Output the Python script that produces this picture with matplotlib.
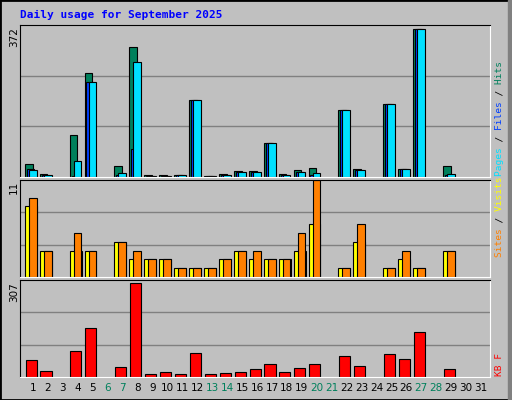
import matplotlib.pyplot as plt
from matplotlib.patches import Rectangle

days = list(range(1, 32))
weekends = [6, 7, 13, 14, 20, 21, 27, 28]

# daily values, 0 = no data
hits = [31, 8, 0, 104, 254, 0, 28, 317, 6, 6, 4, 188, 2, 8, 14, 14, 82, 8, 16, 21, 0,
        164, 19, 0, 178, 20, 362, 0, 26, 0, 0]
files = [19, 6, 0, 2, 232, 0, 6, 68, 3, 3, 4, 188, 2, 6, 13, 13, 82, 6, 13, 6, 0,
         164, 16, 0, 178, 20, 362, 0, 6, 0, 0]
pages = [16, 6, 0, 38, 232, 0, 11, 281, 3, 3, 4, 188, 2, 6, 13, 13, 82, 6, 13, 11, 0,
         164, 16, 0, 178, 20, 362, 0, 8, 0, 0]
visits = [8, 3, 0, 3, 3, 0, 4, 2, 2, 2, 1, 1, 1, 2, 3, 2, 2, 2, 3, 6, 0,
          1, 4, 0, 1, 2, 1, 0, 3, 0, 0]
sites = [9, 3, 0, 5, 3, 0, 4, 3, 2, 2, 1, 1, 1, 2, 3, 3, 2, 2, 5, 11, 0,
         1, 6, 0, 1, 3, 1, 0, 3, 0, 0]
kbytes = [53, 18, 0, 83, 154, 0, 31, 296, 11, 15, 9, 76, 9, 12, 15, 25, 41, 15, 28, 41, 0,
          67, 34, 0, 73, 57, 141, 0, 25, 0, 0]

BG = "#C0C0C0"
W, H = 512, 400
XMIN, XMAX = 0.13, 31.6
fig = plt.figure(figsize=(W / 100, H / 100), dpi=100, facecolor=BG)


def fx(px):
    return px / W


def fy(py):
    return 1 - py / H


def panel(top, bottom, ymax):
    ax = fig.add_axes([fx(20), fy(bottom), fx(490) - fx(20), fy(top) - fy(bottom)])
    ax.set_facecolor(BG)
    ax.set_xlim(XMIN, XMAX)
    ax.set_ylim(0, ymax)
    ax.set_xticks([])
    ax.set_yticks([])
    for f in (1 / 3, 2 / 3):
        ax.axhline(ymax * f, color="#808080", lw=1, zorder=0)
    for s in ax.spines.values():
        s.set_color("black")
    ax.spines["right"].set_color("white")
    ax.spines["bottom"].set_color("white")
    return ax


def bars(ax, vals, off, width, color):
    xs = [d + off for d, v in zip(days, vals) if v > 0]
    hs = [v for v in vals if v > 0]
    ax.bar(xs, hs, width=width, align="edge", color=color, edgecolor="black", lw=0.8)


ax1 = panel(25, 177, 372)
bars(ax1, hits, -0.55, 0.52, "#00805C")
bars(ax1, files, -0.42, 0.52, "#0040FF")
bars(ax1, pages, -0.28, 0.52, "#00E0FF")

ax2 = panel(180, 277, 11)
bars(ax2, visits, -0.55, 0.8, "#FFFF00")
bars(ax2, sites, -0.28, 0.52, "#FF8000")

ax3 = panel(280, 377, 307)
bars(ax3, kbytes, -0.5, 0.74, "#FF0000")

for d in days:
    x = fx(20) + (d - XMIN) / (XMAX - XMIN) * (fx(490) - fx(20))
    fig.text(x, fy(388), str(d), ha="center", va="center", fontsize=7.5,
             color="#00805C" if d in weekends else "black")

fig.text(fx(20), fy(15), "Daily usage for September 2025", ha="left", va="center",
         fontsize=8, fontweight="bold", family="DejaVu Sans Mono", color="#0000FF")

for txt, top in (("372", 27), ("11", 181), ("307", 282)):
    fig.text(fx(14), fy(top), txt, rotation=90, ha="center", va="top", fontsize=7.5)


def side_label(text, colors, bottom):
    # overlay one monospace string per colour so the pieces line up
    for col, chars in colors:
        s = "".join(c if i in chars else " " for i, c in enumerate(text))
        fig.text(fx(500), fy(bottom), s, rotation=90, ha="center", va="bottom",
                 fontsize=6.8, family="DejaVu Sans Mono", color=col)


t = "Pages / Files / Hits"
side_label(t, [("#00E0FF", range(0, 5)), ("black", [6, 14]),
               ("#0040FF", range(8, 13)), ("#00805C", range(16, 20))], 176)
t = "Sites / Visits"
side_label(t, [("#FF8000", range(0, 5)), ("black", [6]), ("#FFFF00", range(8, 14))], 257)
side_label("KB F", [("#FF0000", range(0, 4))], 376)

# outer 3d frame
fig.patches.append(Rectangle((0, 0), 1, 1, transform=fig.transFigure, fill=False,
                             edgecolor="black", lw=2))
fig.patches.append(Rectangle((fx(508), 0), fx(4), 1, transform=fig.transFigure,
                             color="#808080"))

fig.savefig("out.png", dpi=100, facecolor=BG)
